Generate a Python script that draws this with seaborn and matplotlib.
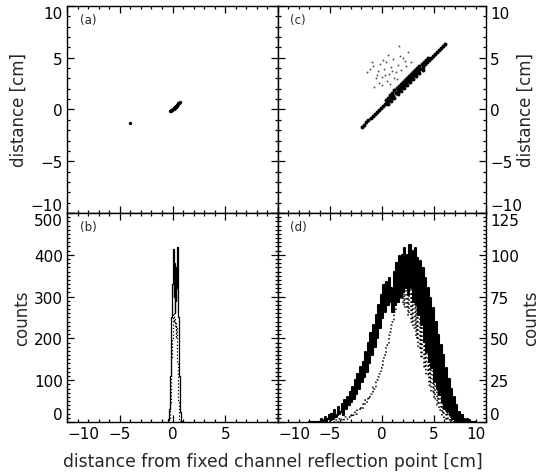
import numpy as np
import pandas as pd
import matplotlib
matplotlib.use("Agg")
import matplotlib.pyplot as plt
import seaborn as sns
from matplotlib.ticker import MultipleLocator

sns.set_style("ticks")
plt.rcParams['font.family'] = ['DejaVu Sans']

# (a) scatter: small blob near the origin + one stray point
a_x = [-0.2, -0.15, -0.1, -0.05, 0.0, 0.05, 0.1, 0.15, 0.2, 0.25, 0.3, 0.35,
       0.4, 0.45, 0.5, 0.55, 0.6, 0.7, 0.15, 0.25, 0.35, 0.45, -4.0]
a_y = [-0.15, -0.1, -0.05, -0.02, 0.05, 0.08, 0.15, 0.18, 0.25, 0.28, 0.35, 0.38,
       0.45, 0.48, 0.55, 0.58, 0.65, 0.72, 0.08, 0.18, 0.28, 0.38, -1.3]

# (c) scatter: dense diagonal band + sparse dots above it
band_x = [-1.9, -1.7, -1.5, -1.3, -1.1, -0.9, -0.7, -0.5, -0.3, -0.1, 0.1, 0.3,
          0.5, 0.7, 0.9, 1.1, 1.3, 1.5, 1.7, 1.9, 2.1, 2.3, 2.5, 2.7, 2.9, 3.1,
          3.3, 3.5, 3.7, 3.9, 4.1, 4.3, 4.5, 4.7, 4.9, 5.1, 5.3, 5.5, 5.7, 5.9, 6.1]
band_y = [-1.65, -1.45, -1.25, -1.05, -0.85, -0.65, -0.45, -0.25, -0.05, 0.15, 0.35, 0.55,
          0.75, 0.95, 1.15, 1.35, 1.55, 1.75, 1.95, 2.15, 2.35, 2.55, 2.75, 2.95, 3.15, 3.35,
          3.55, 3.75, 3.95, 4.15, 4.35, 4.55, 4.75, 4.95, 5.15, 5.35, 5.55, 5.75, 5.95, 6.15, 6.35]
band2_x = [0.4, 0.6, 0.8, 1.0, 1.2, 1.4, 1.6, 1.8, 2.0, 2.2, 2.4, 2.6, 2.8, 3.0,
           3.2, 3.4, 3.6, 3.8, 4.0, 4.2, 4.4,
           0.6, 0.9, 1.2, 1.5, 1.8, 2.1, 2.4, 2.7, 3.0, 3.3, 3.6, 3.9]
band2_y = [0.95, 1.15, 1.4, 1.6, 1.85, 2.05, 2.25, 2.45, 2.65, 2.85, 3.05, 3.25, 3.45, 3.65,
           3.85, 4.05, 4.25, 4.4, 4.6, 4.8, 4.95,
           0.55, 0.85, 1.15, 1.45, 1.75, 2.05, 2.35, 2.65, 2.95, 3.25, 3.55, 3.85]
dots_x = [-1.4, -1.2, -0.9, -0.6, -0.4, -0.2, 0.0, 0.2, 0.4, 0.5, 0.7, 0.9, 1.1, 1.3,
          1.5, 1.7, 2.0, 2.2, 2.5, -0.8, -0.3, 0.3, 0.8, 1.2, 1.8, 0.1, -1.0, 0.6, 1.6, 2.8,
          -0.5, 0.0, 1.0, 1.4, 2.3]
dots_y = [3.6, 3.9, 4.2, 3.0, 3.7, 4.4, 3.1, 3.9, 4.6, 2.8, 3.4, 4.1, 4.9, 3.6,
          4.3, 5.2, 5.0, 4.7, 5.6, 2.2, 2.6, 3.3, 2.5, 3.0, 3.8, 4.8, 4.6, 5.3, 6.1, 4.6,
          3.3, 2.4, 3.7, 2.9, 4.2]

# (b) histograms, bins of 0.05 cm starting at -0.5
b_start, b_width = -0.5, 0.05
b_solid = [0, 2, 6, 14, 30, 60, 110, 180,
           250, 330, 380, 415, 300, 380, 260, 350,
           290, 370, 320, 418, 300, 250, 180, 110,
           60, 25, 10, 3, 1, 0, 0, 0]
b_dotted = [0, 0, 1, 3, 8, 20, 45, 90,
            150, 200, 240, 260, 240, 250, 230, 240,
            200, 230, 180, 140, 90, 50, 20, 8,
            2, 0, 0, 0, 0, 0, 0, 0]

# (d) histograms, bins of 0.125 cm starting at -7
d_start, d_width = -7.0, 0.125
d_solid = [0, 0, 0, 0, 0, 0, 0, 0,
           0, 2, 0, 1, 3, 0, 2, 4,
           1, 5, 2, 7, 3, 4, 9, 5,
           6, 11, 4, 13, 8, 15, 10, 18,
           12, 21, 14, 25, 17, 29, 20, 33,
           24, 36, 27, 42, 30, 47, 35, 53,
           40, 58, 45, 64, 50, 70, 56, 76,
           62, 82, 66, 84, 70, 86, 72, 80,
           66, 90, 70, 95, 72, 99, 75, 100,
           78, 104, 80, 100, 76, 106, 80, 102,
           72, 104, 70, 98, 64, 96, 58, 92,
           48, 86, 42, 80, 36, 74, 32, 68,
           24, 60, 20, 52, 16, 46, 12, 40,
           8, 32, 6, 26, 4, 20, 2, 15,
           1, 10, 0, 6, 0, 4, 0, 2,
           0, 2, 0, 1, 0, 0, 0, 0]
d_dotted = [0, 0, 0, 0, 0, 0, 0, 0,
            0, 0, 0, 0, 0, 0, 0, 0,
            0, 1, 0, 0, 1, 0, 1, 2,
            1, 2, 1, 3, 2, 2, 3, 4,
            3, 5, 4, 6, 5, 7, 7, 9,
            8, 11, 10, 13, 12, 15, 14, 17,
            18, 21, 20, 24, 25, 27, 29, 32,
            34, 38, 40, 45, 46, 52, 54, 58,
            60, 66, 66, 72, 72, 78, 74, 82,
            70, 84, 68, 82, 64, 80, 60, 78,
            56, 78, 50, 72, 44, 68, 38, 62,
            32, 56, 28, 50, 22, 44, 18, 38,
            14, 32, 10, 26, 7, 20, 4, 14,
            2, 9, 1, 5, 0, 3, 0, 1,
            0, 0, 0, 0, 0, 0, 0, 0,
            0, 0, 0, 0, 0, 0, 0, 0]

x_ticks = [-10, -5, 0, 5, 10]
pos_ticks = [-10, -5, 0, 5, 10]
b_ticks = [0, 100, 200, 300, 400, 500]
d_ticks = [0, 25, 50, 75, 100, 125]

fig = plt.figure(figsize=(5.39, 4.77), dpi=100)
ax_a = fig.add_axes([0.1243, 0.5514, 0.3915, 0.4339])
ax_c = fig.add_axes([0.5158, 0.5514, 0.3859, 0.4339])
ax_b = fig.add_axes([0.1243, 0.1132, 0.3915, 0.4382])
ax_d = fig.add_axes([0.5158, 0.1132, 0.3859, 0.4382])

sns.scatterplot(x=a_x, y=a_y, color="black", s=6, linewidth=0, ax=ax_a)
sns.scatterplot(x=band_x, y=band_y, color="black", s=8, linewidth=0, ax=ax_c)
sns.scatterplot(x=band2_x, y=band2_y, color="black", s=8, linewidth=0, ax=ax_c)
sns.scatterplot(x=dots_x, y=dots_y, color="0.3", s=1.8, linewidth=0, ax=ax_c)


def hist(ax, start, width, counts, ls, lw):
    n = len(counts)
    centers = start + width * (np.arange(n) + 0.5)
    df = pd.DataFrame({"x": centers, "w": counts})
    sns.histplot(data=df, x="x", weights="w", binwidth=width,
                 binrange=(start, start + width * n), element="step", fill=False,
                 color="black", linewidth=lw, linestyle=ls, ax=ax)


hist(ax_b, b_start, b_width, b_dotted, ":", 0.9)
hist(ax_b, b_start, b_width, b_solid, "-", 0.9)
hist(ax_d, d_start, d_width, d_dotted, ":", 1.1)
hist(ax_d, d_start, d_width, d_solid, "-", 1.5)

fs = 11
for ax in [ax_a, ax_b, ax_c, ax_d]:
    ax.set_xlim(-10, 10)
    ax.set_xticks(x_ticks)
    ax.xaxis.set_minor_locator(MultipleLocator(1))
    ax.tick_params(which="both", direction="in", top=True, bottom=True,
                   left=True, right=True, colors="black", labelsize=fs, width=0.9)
    ax.tick_params(which="major", length=5, pad=3)
    ax.tick_params(which="minor", length=2.5)
    for s in ax.spines.values():
        s.set_linewidth(1.0)
        s.set_color("black")
    ax.set_xlabel("")
    ax.set_ylabel("")

for ax in [ax_a, ax_c]:
    ax.set_ylim(-10, 10)
    ax.set_yticks(pos_ticks)
    ax.yaxis.set_minor_locator(MultipleLocator(1))
    ax.tick_params(labelbottom=False)

ax_b.set_ylim(0, 500)
ax_b.set_yticks(b_ticks)
ax_b.yaxis.set_minor_locator(MultipleLocator(10))
ax_d.set_ylim(0, 125)
ax_d.set_yticks(d_ticks)
ax_d.yaxis.set_minor_locator(MultipleLocator(2.5))

for ax in [ax_c, ax_d]:
    ax.tick_params(labelleft=False, labelright=True)
    ax.yaxis.set_label_position("right")

lab_fs = 12
ax_a.set_ylabel("distance [cm]", fontsize=lab_fs, labelpad=2)
ax_b.set_ylabel("counts", fontsize=lab_fs, labelpad=2)
ax_c.set_ylabel("distance [cm]", fontsize=lab_fs)
ax_d.set_ylabel("counts", fontsize=lab_fs)
ax_c.yaxis.set_label_coords(1.148, 0.5)
ax_d.yaxis.set_label_coords(1.172, 0.5)
fig.text(0.507, 0.031, "distance from fixed channel reflection point [cm]",
         ha="center", va="center", fontsize=12.3)

# edge tick labels pulled inside like the original
fig.canvas.draw()
for ax in [ax_a, ax_b, ax_c, ax_d]:
    ylabs = ax.get_yticklabels()
    ylabs[0].set_va("bottom")
    ylabs[-1].set_va("top")
for ax in [ax_b, ax_d]:
    xlabs = ax.get_xticklabels()
    xlabs[0].set_ha("left")
    xlabs[-1].set_ha("right")
ax_b.get_xticklabels()[-1].set_visible(False)

for ax, lab in zip([ax_a, ax_b, ax_c, ax_d], ["(a)", "(b)", "(c)", "(d)"]):
    ax.text(0.06, 0.935, lab, transform=ax.transAxes, fontsize=8.5, va="center")

fig.savefig("out.png", dpi=100)
